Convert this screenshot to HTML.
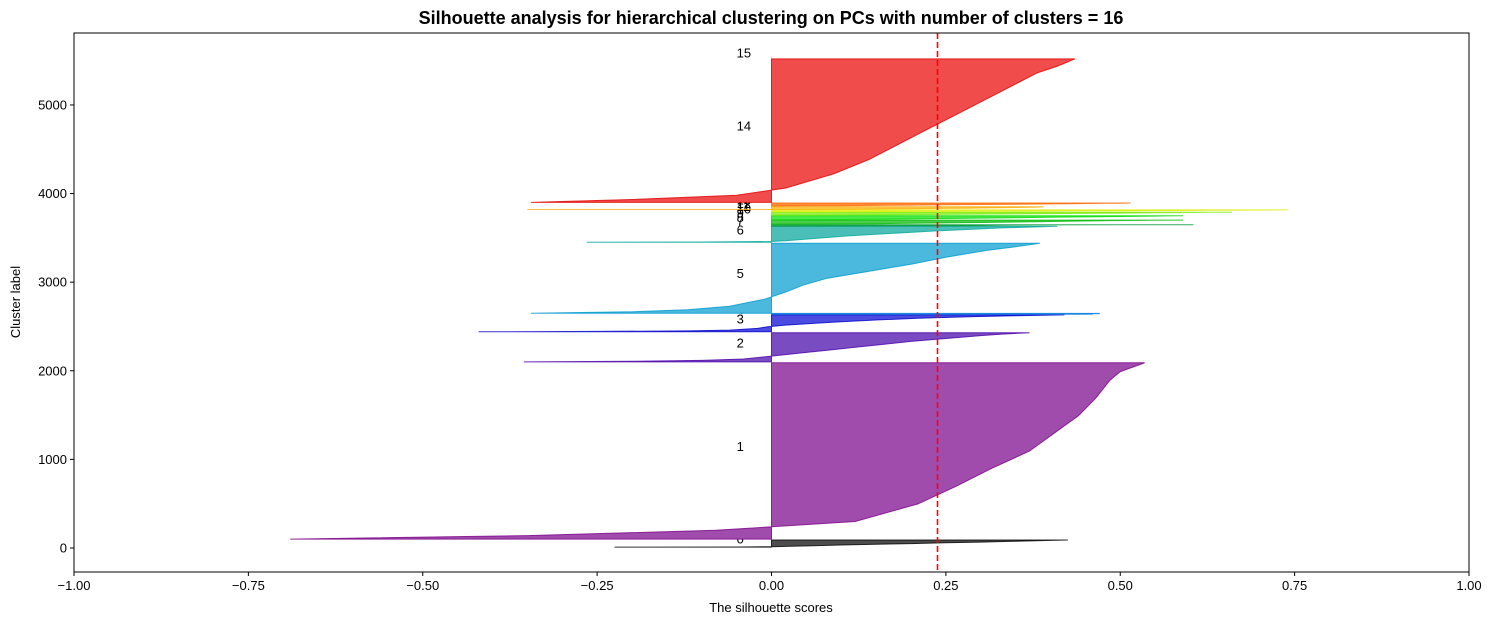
<!DOCTYPE html>
<html><head><meta charset="utf-8"><style>
body{margin:0;background:#fff;}
svg{display:block;font-family:"Liberation Sans","DejaVu Sans",sans-serif;}
</style></head><body>
<svg id="chart" width="1494" height="625" viewBox="0 0 1494 625" xmlns="http://www.w3.org/2000/svg">
<rect x="0" y="0" width="1494" height="625" fill="#fff"/>
<text x="771" y="24" text-anchor="middle" font-size="18" font-weight="bold">Silhouette analysis for hierarchical clustering on PCs with number of clusters = 16</text>
<g id="plot"></g>
<rect x="74" y="33" width="1395" height="539" fill="none" stroke="#000" stroke-width="1"/>
<g id="xticks"></g>
<g id="yticks"></g>
<text x="771" y="612" text-anchor="middle" font-size="13">The silhouette scores</text>
<text x="20" y="302" text-anchor="middle" font-size="13" transform="rotate(-90 20 302)">Cluster label</text>
</svg>
<script>
const fracs = [0, 0.02, 0.05, 0.1, 0.2, 0.3, 0.4, 0.5, 0.6, 0.7, 0.8, 0.9, 0.95, 1];
const clusterLower = [10, 100, 2100, 2440, 2638, 2650, 3450, 3633, 3655, 3705, 3755, 3795, 3820, 3860, 3900, 5530];
const clusterUpper = [90, 2090, 2430, 2630, 2648, 3440, 3630, 3648, 3700, 3750, 3790, 3815, 3850, 3893, 5520, 5545];
const clusterValues = [
 [-0.225,-0.05,0.0,0.02,0.06,0.1,0.15,0.2,0.25,0.3,0.34,0.38,0.4,0.425],
 [-0.69,-0.35,-0.08,0.12,0.21,0.265,0.315,0.37,0.405,0.44,0.465,0.485,0.5,0.535],
 [-0.355,-0.2,-0.1,-0.04,0.0,0.04,0.08,0.12,0.16,0.2,0.25,0.3,0.33,0.37],
 [-0.42,-0.25,-0.12,-0.06,-0.02,-0.005,0.02,0.06,0.1,0.15,0.21,0.29,0.35,0.42],
 [0.44,0.45,0.45,0.45,0.46,0.46,0.46,0.46,0.46,0.47,0.47,0.47,0.47,0.47],
 [-0.345,-0.2,-0.12,-0.06,-0.01,0.02,0.045,0.08,0.14,0.2,0.25,0.31,0.35,0.385],
 [-0.265,-0.1,0.0,0.02,0.05,0.08,0.11,0.15,0.19,0.23,0.28,0.33,0.37,0.41],
 [0.0,0.05,0.1,0.15,0.22,0.28,0.3,0.31,0.32,0.33,0.35,0.4,0.5,0.605],
 [0.0,0.05,0.1,0.15,0.2,0.25,0.3,0.34,0.38,0.42,0.46,0.5,0.54,0.59],
 [0.0,0.05,0.1,0.15,0.2,0.25,0.3,0.35,0.4,0.45,0.5,0.55,0.57,0.59],
 [0.0,0.05,0.1,0.15,0.2,0.26,0.32,0.38,0.44,0.5,0.55,0.6,0.63,0.66],
 [0.0,0.05,0.1,0.15,0.22,0.3,0.38,0.45,0.52,0.58,0.64,0.69,0.72,0.74],
 [-0.35,0.0,0.05,0.1,0.15,0.2,0.24,0.28,0.31,0.34,0.36,0.38,0.385,0.39],
 [0.0,0.03,0.06,0.1,0.15,0.2,0.25,0.3,0.35,0.4,0.44,0.48,0.5,0.515],
 [-0.345,-0.2,-0.05,0.02,0.09,0.14,0.18,0.22,0.26,0.3,0.34,0.38,0.41,0.435],
 [0.0,0.0,0.0,0.0,0.0,0.0,0.0,0.0,0.0,0.0,0.0,0.0,0.0,0.0]
];
const fillColors = ["#4d4d4d","#a04cad","#7a4cc2","#4b4be0","#4aa0e6","#4bb8dd","#4bbfb7","#3cb371","#4ccc4c","#4ce84c","#9af04c","#e8f04c","#f8c84c","#ff8c3c","#f04c4c","#cccccc"];
const edgeColors = ["#000000","#7a0087","#4a00a8","#0000cc","#0077dd","#0099cc","#00a899","#009933","#00bb00","#00dd00","#77ee00","#ddee00","#ffaa00","#ff6600","#e00000","#cccccc"];
const avgScore = 0.238;
const xTicks = [-1, -0.75, -0.5, -0.25, 0, 0.25, 0.5, 0.75, 1];
const xTickLabels = ["\u22121.00","\u22120.75","\u22120.50","\u22120.25","0.00","0.25","0.50","0.75","1.00"];
const yTicks = [0, 1000, 2000, 3000, 4000, 5000];

const NS = "http://www.w3.org/2000/svg";
const X0 = 74, X1 = 1469, Y0 = 572, Y1 = 33;
const xmin = -1, xmax = 1, ymin = -271, ymax = 5812;
function xs(v){ return X0 + (v - xmin) / (xmax - xmin) * (X1 - X0); }
function ys(v){ return Y0 - (v - ymin) / (ymax - ymin) * (Y0 - Y1); }
function mk(tag, attrs){ const e = document.createElementNS(NS, tag); for (const k in attrs) e.setAttribute(k, attrs[k]); return e; }

const plot = document.getElementById("plot");
for (let i = 0; i < clusterLower.length; i++) {
  const lo = clusterLower[i], hi = clusterUpper[i], vals = clusterValues[i];
  const pts = [[xs(0), ys(lo)]];
  for (let j = 0; j < fracs.length; j++) pts.push([xs(vals[j]), ys(lo + fracs[j] * (hi - lo))]);
  pts.push([xs(0), ys(hi)]);
  const poly = mk("polygon", {points: pts.map(p => p[0].toFixed(1) + "," + p[1].toFixed(1)).join(" "), fill: fillColors[i], stroke: edgeColors[i], "stroke-width": 1, "stroke-opacity": 0.8});
  
  
  plot.appendChild(poly);
  const lbl = mk("text", {x: xs(-0.05), y: ys(lo + 0.5 * (hi - lo)), "font-size": 13});
  
  
  lbl.textContent = String(i);
  plot.appendChild(lbl);
}
const avg = mk("line", {x1: xs(avgScore), x2: xs(avgScore), y1: Y1, y2: Y0, stroke: "#ff0000", "stroke-width": 1.6, "stroke-dasharray": "6,3"});


plot.appendChild(avg);

const xg = document.getElementById("xticks");
xTicks.forEach((t, i) => {
  const tk = mk("line", {x1: xs(t), x2: xs(t), y1: Y0, y2: Y0 + 4, stroke: "#000"});
  
  
  xg.appendChild(tk);
  const tl = mk("text", {x: xs(t), y: Y0 + 18, "text-anchor": "middle", "font-size": 13});
  
  
  tl.textContent = xTickLabels[i];
  xg.appendChild(tl);
});
const yg = document.getElementById("yticks");
yTicks.forEach(t => {
  const tk = mk("line", {x1: X0 - 4, x2: X0, y1: ys(t), y2: ys(t), stroke: "#000"});
  
  
  yg.appendChild(tk);
  const tl = mk("text", {x: X0 - 7, y: ys(t) + 4.5, "text-anchor": "end", "font-size": 13});
  
  
  tl.textContent = String(t);
  yg.appendChild(tl);
});
</script>
</body></html>
